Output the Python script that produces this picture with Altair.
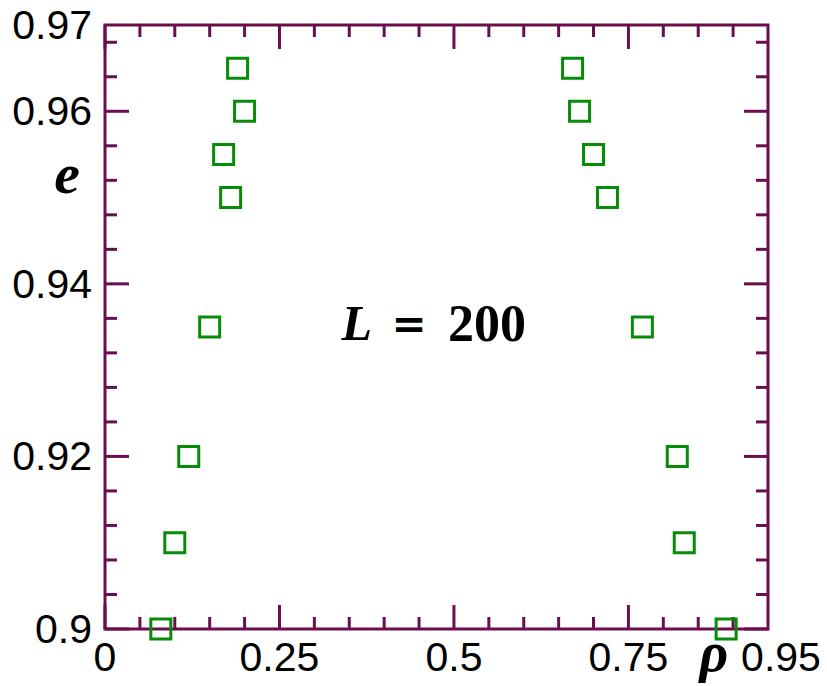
import altair as alt
import pandas as pd

# Transition points: density rho vs. e, two branches (L = 200)
rho_low = [0.08, 0.10, 0.12, 0.15, 0.18, 0.17, 0.20, 0.19]
e_low = [0.900, 0.910, 0.920, 0.935, 0.950, 0.955, 0.960, 0.965]
rho_high = [0.89, 0.83, 0.82, 0.77, 0.72, 0.70, 0.68, 0.67]
e_high = [0.900, 0.910, 0.920, 0.935, 0.950, 0.955, 0.960, 0.965]
lattice_size = 200

# Tick labels and tick positions
x_label_values = [0, 0.25, 0.5, 0.75, 0.95]
y_label_values = [0.9, 0.92, 0.94, 0.96, 0.97]
x_major = [0, 0.25, 0.5, 0.75]
x_minor = [0.05, 0.1, 0.15, 0.2, 0.3, 0.35, 0.4, 0.45,
           0.55, 0.6, 0.65, 0.7, 0.8, 0.85, 0.9]
y_major = [0.9, 0.92, 0.94, 0.96]
y_minor = [0.904, 0.908, 0.912, 0.916, 0.924, 0.928, 0.932, 0.936,
           0.944, 0.948, 0.952, 0.956, 0.964, 0.968]

W, H = 663, 604
FRAME = "#690f50"
GREEN = "#078c07"
MAJOR_LEN, MINOR_LEN = 24, 12
LABEL_FONT = "Liberation Sans"
MATH_FONT = "Liberation Serif"

xs = alt.Scale(domain=[0, 0.95], nice=False, zero=False)
ys = alt.Scale(domain=[0.9, 0.97], nice=False, zero=False)

points = pd.DataFrame({
    "rho": rho_low + rho_high,
    "e": e_low + e_high,
})

squares = alt.Chart(points).mark_point(
    shape="square", filled=False, stroke=GREEN, strokeWidth=3, size=400, opacity=1
).encode(
    x=alt.X("rho:Q", scale=xs, axis=None),
    y=alt.Y("e:Q", scale=ys, axis=None),
)


def x_ticks(values, length):
    df = pd.DataFrame({"rho": values})
    base = alt.Chart(df).mark_rule(color=FRAME, strokeWidth=3)
    bottom = base.encode(x=alt.X("rho:Q", scale=xs, axis=None),
                         y=alt.value(H), y2=alt.value(H - length))
    top = base.encode(x=alt.X("rho:Q", scale=xs, axis=None),
                      y=alt.value(0), y2=alt.value(length))
    return [bottom, top]


def y_ticks(values, length):
    df = pd.DataFrame({"e": values})
    base = alt.Chart(df).mark_rule(color=FRAME, strokeWidth=3)
    left = base.encode(y=alt.Y("e:Q", scale=ys, axis=None),
                       x=alt.value(0), x2=alt.value(length))
    right = base.encode(y=alt.Y("e:Q", scale=ys, axis=None),
                        x=alt.value(W), x2=alt.value(W - length))
    return [left, right]


tick_layers = (x_ticks(x_major, MAJOR_LEN) + x_ticks(x_minor, MINOR_LEN)
               + y_ticks(y_major, MAJOR_LEN) + y_ticks(y_minor, MINOR_LEN))


# Tick labels placed through the same scales
def x_label_layer(values, dx=0):
    return alt.Chart(pd.DataFrame({"rho": values})).mark_text(
        font=LABEL_FONT, fontSize=41, align="center", baseline="top",
        color="black", dx=dx
    ).encode(
        x=alt.X("rho:Q", scale=xs, axis=None),
        y=alt.value(H + 10),
        text=alt.Text("rho:Q", format="~g"),
    )


# the last label sits just right of the frame corner
x_labels = x_label_layer(x_label_values[:-1])
x_label_end = x_label_layer(x_label_values[-1:], dx=13)

y_labels = alt.Chart(pd.DataFrame({"e": y_label_values})).mark_text(
    font=LABEL_FONT, fontSize=41, align="right", baseline="middle", dy=2,
    color="black"
).encode(
    y=alt.Y("e:Q", scale=ys, axis=None),
    x=alt.value(-13),
    text=alt.Text("e:Q", format="~g"),
)

# Axis symbols
title_e = alt.Chart(pd.DataFrame({"t": ["e"]})).mark_text(
    font=MATH_FONT, fontSize=58, fontWeight="bold", fontStyle="italic",
    align="center", baseline="alphabetic", color="black"
).encode(x=alt.value(-38), y=alt.value(168), text="t:N")
title_rho = alt.Chart(pd.DataFrame({"t": ["ρ"]})).mark_text(
    font=MATH_FONT, fontSize=56, fontWeight="bold", fontStyle="italic",
    align="center", baseline="alphabetic", color="black"
).encode(x=alt.value(609), y=alt.value(H + 42), text="t:N")

# "L = 200" annotation
label_df = pd.DataFrame({"size": [lattice_size]})
anchor = dict(x=alt.X(datum=0.47, scale=xs, axis=None),
              y=alt.Y(datum=0.9352, scale=ys, axis=None))
txt_L = alt.Chart(label_df).mark_text(
    text="L", font=MATH_FONT, fontSize=50, fontWeight="bold",
    fontStyle="italic", align="right", baseline="middle", dx=-61, color="black"
).encode(**anchor)
txt_eq = alt.Chart(label_df).mark_text(
    text="=", font="DejaVu Serif", fontSize=42, fontWeight="bold",
    align="center", baseline="middle", dx=-24, color="black"
).encode(**anchor)
txt_num = alt.Chart(label_df).mark_text(
    font=MATH_FONT, fontSize=52, fontWeight="bold",
    align="left", baseline="middle", dx=15, color="black"
).encode(text=alt.Text("size:N"), **anchor)

chart = alt.layer(
    *tick_layers, x_labels, x_label_end, y_labels, title_e, title_rho,
    txt_L, txt_eq, txt_num, squares
).properties(
    width=W, height=H,
    autosize=alt.AutoSizeParams(type="none"),
    padding={"left": 105, "top": 25, "right": 59, "bottom": 57},
    background="white",
).configure_view(
    stroke=FRAME, strokeWidth=3,
)

chart.save("out.html", embed_options={"renderer": "svg", "actions": False})
